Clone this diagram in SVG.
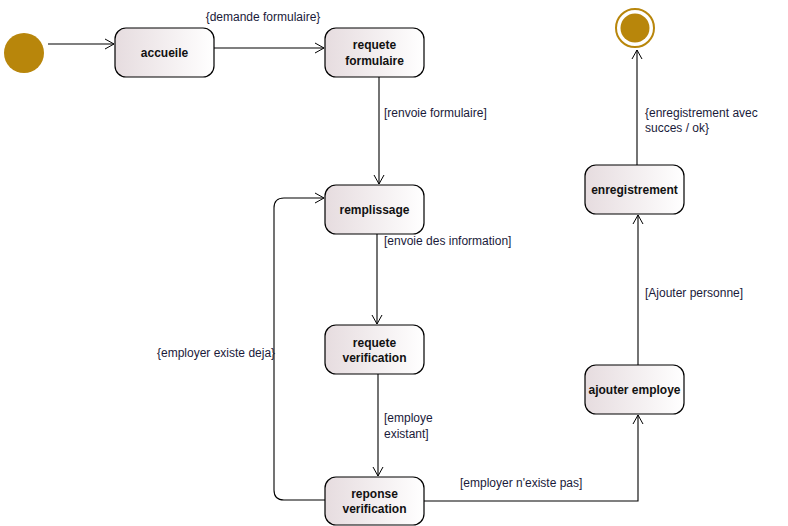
<svg xmlns="http://www.w3.org/2000/svg" width="788" height="526" viewBox="0 0 788 526">
<defs>
<linearGradient id="g" x1="0" y1="0" x2="1" y2="0">
<stop offset="0" stop-color="#e6dcdf"/>
<stop offset="1" stop-color="#ffffff"/>
</linearGradient>
<marker id="arr" markerWidth="12" markerHeight="12" refX="10" refY="6" orient="auto" markerUnits="userSpaceOnUse">
<path d="M1,1 L10,6 L1,11" fill="none" stroke="#000" stroke-width="1"/>
</marker>
<style>
.n rect{fill:url(#g);stroke:#000;stroke-width:1.2}
.n text{font-family:"Liberation Sans",Arial,sans-serif;font-size:12px;font-weight:bold;fill:#111;text-anchor:middle}
.c path{fill:none;stroke:#000;stroke-width:1.1}
.l{font-family:"Liberation Sans",Arial,sans-serif;font-size:12px;fill:#1a1a3a}
</style>
</defs>
<rect width="788" height="526" fill="#fff"/>
<g class="c">
<path d="M48,44 H114" marker-end="url(#arr)"/>
<path d="M214,48 H324" marker-end="url(#arr)"/>
<path d="M379,77 V184" marker-end="url(#arr)"/>
<path d="M377,234 V324" marker-end="url(#arr)"/>
<path d="M378,374 V476" marker-end="url(#arr)"/>
<path d="M325,500 H284 Q274,500 274,490 V208 Q274,198 284,198 H324" marker-end="url(#arr)"/>
<path d="M424,501 H638 V415" marker-end="url(#arr)"/>
<path d="M638,365 V215" marker-end="url(#arr)"/>
<path d="M637,165 V50" marker-end="url(#arr)"/>
</g>
<g class="lbls">
<text class="l" x="263" y="21" text-anchor="middle">{demande formulaire}</text>
<text class="l" x="384" y="117">[renvoie formulaire]</text>
<text class="l" x="384" y="245">[envoie des information]</text>
<text class="l" x="384" y="422">[employe</text>
<text class="l" x="384" y="438">existant]</text>
<text class="l" x="157" y="357">{employer existe deja}</text>
<text class="l" x="460" y="487">[employer n'existe pas]</text>
<text class="l" x="645" y="297">[Ajouter personne]</text>
<text class="l" x="645" y="117">{enregistrement avec</text>
<text class="l" x="645" y="132">succes / ok}</text>
</g>
<g id="start"><circle cx="24" cy="53" r="20" fill="#b8860b"/></g>
<g id="end">
<circle cx="635" cy="28" r="19" fill="#fff" stroke="#b8860b" stroke-width="2"/>
<circle cx="635" cy="28" r="14.5" fill="#b8860b"/>
</g>
<g id="accueile" class="n"><rect x="115" y="28" width="99" height="49" rx="11"/><text x="164.5" y="57">accueile</text></g>
<g id="requete_formulaire" class="n"><rect x="325" y="28" width="99" height="49" rx="11"/><text x="374.5" y="49">requete</text><text x="374.5" y="65">formulaire</text></g>
<g id="remplissage" class="n"><rect x="325" y="185" width="99" height="49" rx="11"/><text x="374.5" y="214">remplissage</text></g>
<g id="requete_verification" class="n"><rect x="325" y="325" width="99" height="49" rx="11"/><text x="374.5" y="347">requete</text><text x="374.5" y="362">verification</text></g>
<g id="reponse_verification" class="n"><rect x="325" y="477" width="99" height="48" rx="11"/><text x="374.5" y="498">reponse</text><text x="374.5" y="513">verification</text></g>
<g id="ajouter_employe" class="n"><rect x="585" y="365" width="99" height="49" rx="11"/><text x="634.5" y="394">ajouter employe</text></g>
<g id="enregistrement" class="n"><rect x="585" y="165" width="99" height="49" rx="11"/><text x="634.5" y="194">enregistrement</text></g>
</svg>
